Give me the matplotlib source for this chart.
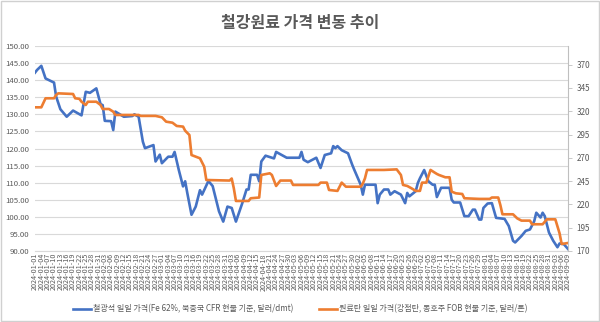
import matplotlib.pyplot as plt
import matplotlib.dates as mdates
from matplotlib.patches import Rectangle
import numpy as np

plt.rcParams['font.family'] = ['Noto Sans CJK KR', 'DejaVu Sans']

start = np.datetime64("2024-01-01")
end = np.datetime64("2024-09-09")

# iron ore, left axis (days since 2024-01-01)
ore_day = [0, 1, 3, 5, 9, 10, 12, 15, 18, 22, 23, 24, 26, 29, 31, 32, 33, 36, 37, 38,
           42, 46, 47, 49, 51, 52, 56, 57, 59, 60, 63, 65, 66, 68, 70, 71, 72, 74, 76, 78,
           79, 82, 84, 86, 87, 89, 91, 93, 95, 98, 100, 101, 102, 105, 106, 107, 109, 113, 114, 119,
           125, 126, 127, 129, 133, 135, 137, 140, 141, 142, 143, 145, 148, 150, 151, 154, 155, 156, 161, 162,
           163, 165, 167, 168, 170, 173, 175, 176, 177, 180, 181, 182, 184, 186, 188, 189, 190, 192, 196, 197,
           198, 201, 203, 205, 207, 208, 210, 211, 212, 214, 216, 218, 222, 224, 226, 227, 230, 232, 234, 236,
           237, 239, 240, 241, 243, 245, 247, 248, 250, 252]
ore_val = [142.2, 143.0, 144.2, 140.5, 139.3, 135.2, 131.5, 129.3, 131.1, 129.7, 133.2, 136.6, 136.3, 137.6, 133.0, 132.7, 128.1, 128.0, 125.4, 130.8,
           129.3, 129.5, 130.0, 129.3, 122.0, 120.1, 121.0, 116.2, 118.2, 115.7, 117.6, 117.6, 119.0, 113.7, 108.9, 110.4, 107.0, 100.6, 103.0, 107.8,
           106.5, 110.5, 109.0, 104.0, 101.6, 98.6, 103.0, 102.6, 98.6, 104.0, 108.0, 108.0, 112.3, 112.3, 110.4, 116.2, 117.9, 117.1, 119.0, 117.3,
           117.3, 119.0, 116.7, 116.0, 117.3, 114.3, 118.1, 118.6, 120.7, 120.1, 120.7, 119.5, 118.6, 115.2, 113.7, 109.4, 106.5, 109.4, 109.4, 104.0,
           106.5, 108.0, 108.0, 106.5, 107.5, 106.5, 104.0, 107.0, 106.0, 107.5, 109.9, 111.3, 113.7, 110.4, 109.4, 109.4, 105.8, 108.5, 108.5, 105.0,
           104.2, 104.2, 100.2, 100.2, 102.1, 102.1, 99.2, 99.2, 102.6, 103.9, 104.0, 99.7, 99.4, 97.3, 93.0, 92.5, 94.4, 95.9, 96.3, 98.7,
           101.2, 99.8, 101.2, 100.2, 95.4, 93.0, 91.1, 92.2, 92.0, 90.6]

# coking coal, right axis
coal_day = [0, 3, 5, 9, 10, 11, 18, 19, 21, 22, 24, 25, 29, 31, 32, 35, 37, 38, 49, 50,
            57, 60, 62, 65, 67, 70, 71, 73, 74, 78, 80, 81, 92, 93, 94, 95, 101, 102, 106, 107,
            111, 112, 114, 116, 121, 122, 134, 135, 138, 139, 143, 145, 147, 154, 155, 156, 157, 165, 171, 173,
            174, 176, 178, 180, 182, 183, 185, 187, 189, 190, 191, 194, 196, 197, 199, 202, 203, 210, 215, 216,
            219, 220, 221, 226, 228, 230, 234, 235, 240, 242, 246, 248, 249, 252]
coal_val = [324.2, 324.2, 333.9, 333.9, 337.4, 339.2, 338.5, 333.9, 333.3, 330.2, 326.7, 330.2, 330.2, 326.7, 322.4, 322.4, 319.5, 316.0, 316.0, 315.0,
            315.0, 313.5, 308.8, 307.7, 304.2, 303.5, 299.1, 294.5, 273.0, 269.5, 260.5, 246.2, 245.6, 247.8, 237.3, 223.7, 223.7, 226.6, 227.4, 251.6,
            253.4, 251.6, 239.8, 245.6, 245.6, 240.9, 240.9, 243.4, 243.4, 235.5, 234.5, 243.4, 239.0, 239.0, 242.4, 248.0, 257.0, 257.0, 257.6, 251.6,
            240.9, 239.8, 237.3, 234.5, 234.5, 243.4, 243.4, 257.0, 254.1, 252.7, 251.6, 249.1, 249.1, 233.7, 231.9, 231.2, 226.6, 225.9, 225.9, 227.4,
            227.4, 219.4, 209.4, 209.4, 205.0, 202.6, 202.6, 198.7, 198.7, 204.0, 204.0, 189.0, 177.5, 178.6]

title = "철강원료 가격 변동 추이"
ore_label = "철광석 일일 가격(Fe 62%, 북중국 CFR 현물 기준, 달러/dmt)"
coal_label = "원료탄 일일 가격(강점탄, 동호주 FOB 현물 기준, 달러/톤)"

blue = "#4472C4"
orange = "#ED7D31"
txt = "#595959"
grid = "#D9D9D9"

fig = plt.figure(figsize=(6, 3.22), dpi=100)
ax = fig.add_axes([0.0583, 0.2205, 0.8884, 0.6366])
ax2 = ax.twinx()

ore_x = start + np.array(ore_day, dtype="timedelta64[D]")
coal_x = start + np.array(coal_day, dtype="timedelta64[D]")

l1, = ax.plot(ore_x, ore_val, color=blue, lw=1.9, solid_joinstyle="round")
l2, = ax2.plot(coal_x, coal_val, color=orange, lw=1.9, solid_joinstyle="round")

ax.set_xlim(start, end)
ax.set_ylim(90, 150)
ax.set_yticks(np.arange(90, 151, 5))
ax.yaxis.set_major_formatter(plt.FormatStrFormatter("%.2f"))
ax2.set_ylim(170, 390)
ax2.set_yticks(np.arange(170, 371, 25))

ticks = start + np.arange(0, 253, 3).astype("timedelta64[D]")
ax.set_xticks(ticks)
ax.xaxis.set_major_formatter(mdates.DateFormatter("%Y-%m-%d"))
ax.tick_params(axis="x", labelrotation=90, labelsize=5.2, colors=txt, length=0, pad=1.5)
ax.tick_params(axis="y", labelsize=5.6, colors=txt, length=0, pad=4)
ax2.tick_params(axis="y", labelsize=5.8, colors=txt, length=3, width=0.6, pad=3, color="#BFBFBF")

ax.grid(axis="y", color=grid, lw=0.8)
ax.set_axisbelow(True)
for s in ["top", "left", "right"]:
    ax.spines[s].set_visible(False)
    ax2.spines[s].set_visible(False)
ax.spines["bottom"].set_color(grid)
ax2.spines["bottom"].set_visible(False)
ax2.spines["right"].set_visible(True)
ax2.spines["right"].set_color("#BFBFBF")
ax2.spines["right"].set_linewidth(0.8)

fig.text(0.5, 0.928, title, ha="center", va="center", fontsize=11.5, fontweight="bold", color=txt)

fig.legend([l1, l2], [ore_label, coal_label], loc="center", bbox_to_anchor=(0.5, 0.04),
           ncol=2, frameon=False, fontsize=5.8, handlelength=2.3, handletextpad=0.2,
           columnspacing=3.2, labelcolor=txt)

fig.patches.append(Rectangle((0.002, 0.003), 0.996, 0.994, transform=fig.transFigure,
                             fill=False, edgecolor="#D0D0D0", lw=1))

fig.savefig("out.png", dpi=100)
